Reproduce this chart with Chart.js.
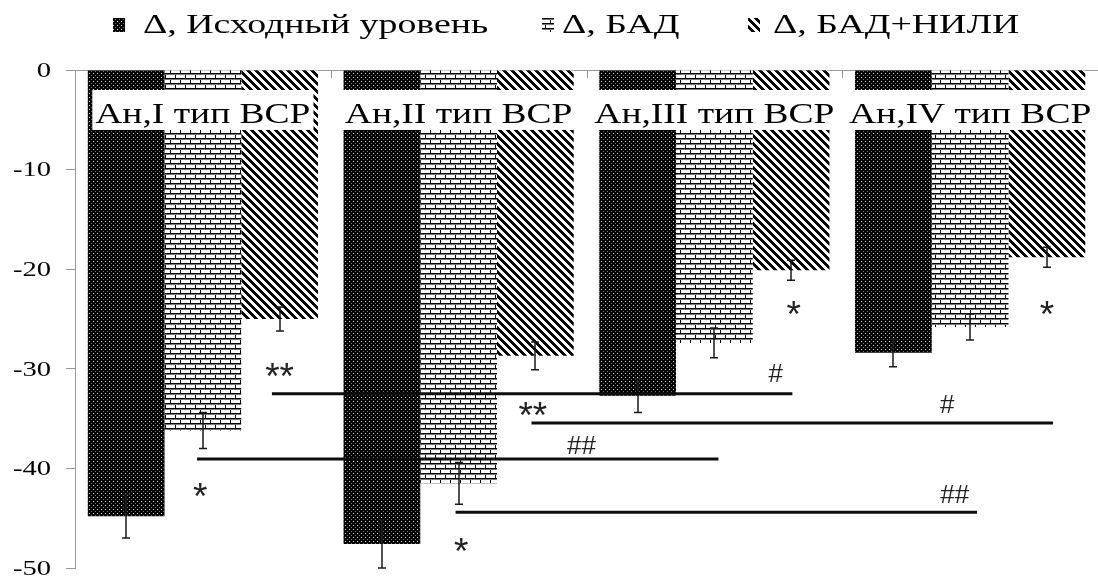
<!DOCTYPE html>
<html>
<head>
<meta charset="utf-8">
<script src="https://cdn.jsdelivr.net/npm/chart.js@4.4.1/dist/chart.umd.min.js"></script>
<style>
  html, body { margin: 0; padding: 0; background: #fff; }
  #wrap { width: 1098px; height: 578px; }
</style>
</head>
<body>
<div id="wrap"><canvas id="c" width="1098" height="578"></canvas></div>
<script>
// ---- data ----
const categories = ['Ан,I тип ВСР', 'Ан,II тип ВСР', 'Ан,III тип ВСР', 'Ан,IV тип ВСР'];
const seriesNames = ['Δ, Исходный уровень', 'Δ, БАД', 'Δ, БАД+НИЛИ'];
const baseline = [-44.8, -47.6, -32.7, -28.4];
const supplement = [-36.2, -41.5, -27.4, -25.8];
const supplementLaser = [-25.0, -28.7, -20.1, -18.8];
const baselineErr = [2.2, 2.4, 1.7, 1.4];
const supplementErr = [1.8, 2.1, 1.5, 1.3];
const supplementLaserErr = [1.2, 1.4, 1.0, 1.0];
const yMin = -50, yMax = 0, yStep = 10;

// comparison brackets (x in category-index units, level in axis units)
const bracketFrom = [0.27, 1.285, -0.023, 0.988];
const bracketTo = [2.305, 3.324, 2.016, 3.027];
const bracketLevel = [-32.5, -35.45, -39.05, -44.4];

// significance marks
const markText = ['**', '*', '**', '*', '*', '*', '#', '#', '##', '##'];
const markX = [0.30, -0.01, 1.29, 1.01, 2.31, 3.30, 2.24, 2.91, 1.48, 2.94];
const markY = [-30.1, -42.2, -34.0, -47.7, -23.9, -23.9, -30.4, -33.5, -37.65, -42.6];

// ---- fill patterns ----
const canvas = document.getElementById('c');
const ctx = canvas.getContext('2d');

function makePattern(w, h, paint) {
  const t = document.createElement('canvas');
  t.width = w; t.height = h;
  const g = t.getContext('2d');
  paint(g, w, h);
  return ctx.createPattern(t, 'repeat');
}

const dotsFill = makePattern(4, 4, (g) => {
  g.fillStyle = '#000'; g.fillRect(0, 0, 4, 4);
  g.fillStyle = '#e8e8e8'; g.fillRect(1, 1, 1, 1);
  g.fillStyle = '#6a6a6a'; g.fillRect(3, 3, 1, 1);
});

const brickFill = makePattern(10, 10, (g) => {
  g.fillStyle = '#fff'; g.fillRect(0, 0, 10, 10);
  g.fillStyle = '#000';
  g.fillRect(0, 3, 10, 1);
  g.fillRect(0, 8, 10, 1);
  g.fillRect(0, 0, 1, 3);
  g.fillRect(5, 5, 1, 3);
  g.fillStyle = '#777';
  g.fillRect(0, 4, 10, 1);
  g.fillRect(0, 9, 10, 1);
});

const stripeFill = makePattern(8, 8, (g) => {
  g.fillStyle = '#fff'; g.fillRect(0, 0, 8, 8);
  g.fillStyle = '#000';
  for (let y = 0; y < 8; y++) {
    for (let x = 0; x < 8; x++) {
      if (((x - y) % 8 + 8) % 8 < 4) g.fillRect(x, y, 1, 1);
    }
  }
});

const fills = [dotsFill, brickFill, stripeFill];
const errors = [baselineErr, supplementErr, supplementLaserErr];

// horizontally widened serif text, as in the printed figure
function stretchedWidth(c, text, sx) { return c.measureText(text).width * sx; }
function drawStretched(c, text, x, y, sx) {
  c.save();
  c.translate(x, y);
  c.scale(sx, 1);
  c.fillText(text, 0, 0);
  c.restore();
}

const SERIF = '"Liberation Serif", "Times New Roman", serif';
const SANS = '"Liberation Sans", Arial, sans-serif';

// ---- plugins ----
const axisDecor = {
  id: 'axisDecor',
  beforeDatasetsDraw(chart) {
    const c = chart.ctx, a = chart.chartArea, xs = chart.scales.x;
    const n = categories.length;
    c.save();
    c.strokeStyle = '#999'; c.lineWidth = 1;
    for (let k = 0; k <= n; k++) {
      const px = Math.round(xs.getPixelForValue(k - 0.5)) + 0.5;
      c.beginPath(); c.moveTo(px, a.top); c.lineTo(px, a.top + 8); c.stroke();
    }
    c.restore();
  },
  afterDraw(chart) {
    // value labels of the y axis, taken from the scale's own ticks
    const c = chart.ctx, ys = chart.scales.y;
    c.save();
    c.font = '22px ' + SERIF;
    c.fillStyle = '#000';
    c.textBaseline = 'middle';
    ys.ticks.forEach((t) => {
      const label = String(t.value);
      const w = stretchedWidth(c, label, 1.3);
      drawStretched(c, label, 51 - w, ys.getPixelForValue(t.value) + 1, 1.3);
    });
    c.restore();
  }
};

const overlays = {
  id: 'overlays',
  afterDatasetsDraw(chart) {
    const c = chart.ctx, xs = chart.scales.x, ys = chart.scales.y;
    c.save();
    // error bars
    c.strokeStyle = '#1a1a1a'; c.lineWidth = 1.5;
    chart.data.datasets.forEach((ds, di) => {
      const meta = chart.getDatasetMeta(di);
      meta.data.forEach((bar, i) => {
        const v = ds.data[i], e = errors[di][i];
        const x = Math.round(bar.x);
        const y1 = ys.getPixelForValue(v + e), y2 = ys.getPixelForValue(v - e);
        c.beginPath();
        c.moveTo(x, y1); c.lineTo(x, y2);
        c.moveTo(x - 4, y1); c.lineTo(x + 4, y1);
        c.moveTo(x - 4, y2); c.lineTo(x + 4, y2);
        c.stroke();
      });
    });
    // category captions on white boxes
    c.font = '30px ' + SERIF;
    c.textBaseline = 'alphabetic';
    categories.forEach((name, i) => {
      const cx = xs.getPixelForValue(i);
      const w = stretchedWidth(c, name, 1.25);
      c.fillStyle = '#fff';
      c.fillRect(cx - w / 2 - 3, 90, w + 6, 40);
      c.fillStyle = '#000';
      drawStretched(c, name, cx - w / 2, 123, 1.25);
    });
    // comparison brackets
    c.strokeStyle = '#0d0d0d'; c.lineWidth = 3; c.lineCap = 'butt';
    bracketLevel.forEach((lv, i) => {
      const y = ys.getPixelForValue(lv);
      c.beginPath();
      c.moveTo(xs.getPixelForValue(bracketFrom[i]), y);
      c.lineTo(xs.getPixelForValue(bracketTo[i]), y);
      c.stroke();
    });
    // significance marks
    c.fillStyle = '#222';
    c.textAlign = 'center';
    markText.forEach((t, i) => {
      c.font = t.includes('#') ? '26px ' + SANS : '37px ' + SANS;
      const m = c.measureText(t);
      const h = m.actualBoundingBoxAscent - m.actualBoundingBoxDescent;
      const px = xs.getPixelForValue(markX[i]);
      const py = ys.getPixelForValue(markY[i]) + h / 2;
      c.fillText(t, px, py);
    });
    c.restore();
  },
  afterDraw(chart) {
    // legend row
    const c = chart.ctx;
    const iconX = [113, 542, 748];
    const textX = [143, 562, 773];
    c.save();
    c.font = '27px ' + SERIF;
    c.textBaseline = 'alphabetic';
    seriesNames.forEach((name, i) => {
      c.fillStyle = fills[i];
      c.fillRect(iconX[i], 18, 12, 14);
      c.fillStyle = '#000';
      drawStretched(c, name, textX[i], 33, 1.4);
    });
    c.restore();
  }
};

function build() {
  new Chart(ctx, {
    type: 'bar',
    data: {
      labels: categories,
      datasets: [
        { label: seriesNames[0], data: baseline, backgroundColor: dotsFill, borderWidth: 0 },
        { label: seriesNames[1], data: supplement, backgroundColor: brickFill, borderWidth: 0 },
        { label: seriesNames[2], data: supplementLaser, backgroundColor: stripeFill, borderWidth: 0 }
      ]
    },
    options: {
      responsive: false,
      animation: false,
      devicePixelRatio: 1,
      layout: { padding: { top: 70, bottom: 10, left: 0, right: 0 } },
      datasets: { bar: { categoryPercentage: 0.9, barPercentage: 1.0 } },
      plugins: { legend: { display: false }, tooltip: { enabled: false } },
      scales: {
        x: {
          position: 'top',
          ticks: { display: false },
          grid: { drawOnChartArea: false, drawTicks: false },
          border: { color: '#999', width: 1 }
        },
        y: {
          min: yMin, max: yMax,
          ticks: { stepSize: yStep, display: false },
          grid: { drawOnChartArea: false, tickLength: 9, color: '#999' },
          border: { color: '#999', width: 1 },
          afterFit(scale) { scale.width = 75; }
        }
      }
    },
    plugins: [axisDecor, overlays]
  });
}

Promise.all([
  document.fonts.load('27px "Liberation Serif"'),
  document.fonts.load('24px "Liberation Sans"')
]).then(build, build);
</script>
</body>
</html>
